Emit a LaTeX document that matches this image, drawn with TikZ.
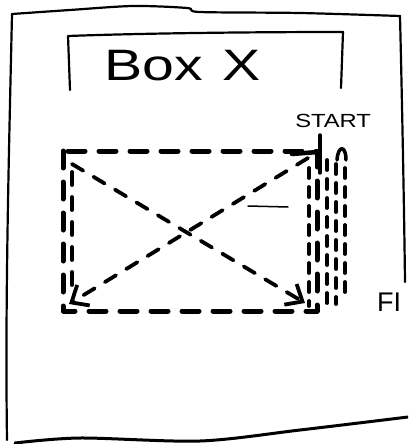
\documentclass[tikz,border=0pt]{standalone}
\usepackage{fontspec}
\setmainfont{Liberation Sans}
\usetikzlibrary{arrows.meta}
\begin{document}
\begin{tikzpicture}[x=1pt,y=-1pt,line cap=round,line join=round,
  frame/.style={line width=2.2pt},
  rectdash/.style={line width=5pt,dash pattern=on 17pt off 14pt},
  diagline/.style={line width=3.8pt,dash pattern=on 13pt off 12pt},
  hatchline/.style={line width=3.8pt,dash pattern=on 10pt off 9pt},
  barb/.style={-{Straight Barb[length=14pt,width=24pt]}},
  label/.style={inner sep=0pt,anchor=base west}]
\useasboundingbox (0,0) rectangle (408,444);
\clip (0,0) rectangle (408,444);
% outer frame
\draw[frame] plot[smooth] coordinates {(12,14) (70,10) (133,6) (187,8) (200,12) (300,13) (400,16)};
\draw[frame] (400,16) .. controls (402,100) and (404,200) .. (405,282);
\draw[frame] (12,14) .. controls (9,150) and (5,300) .. (7,440);
\draw[line width=3pt] plot[smooth] coordinates {(15,443) (80,438) (200,441) (300,430) (408,417)};
% Box X bracket
\draw[frame] (70,90) -- (68,36) .. controls (150,33) and (260,32) .. (343,32) -- (341,88);
\node[label,font=\fontsize{44}{44}\selectfont,xscale=1.3] (title) at (104,80) {Box\hspace{15pt}X};
% dashed rectangle
\coordinate (tl) at (72,164);
\coordinate (tr) at (308,158);
\coordinate (bl) at (69,304);
\coordinate (br) at (305,303);
\draw[rectdash] (63,151) rectangle (317,311);
\draw[diagline,barb] (tl) -- (br);
\draw[diagline,barb] (tr) -- (bl);
\draw[diagline] (72,172) -- (72,296);
% hatching on the right
\draw[hatchline] (309,168) -- (309,306);
\draw[hatchline] (327,160) -- (327,308);
\draw[hatchline] (336,164) -- (336,304);
\draw[line width=3.5pt] (337,160) .. controls (338,145) and (346,145) .. (346,160);
\draw[hatchline] (345,168) -- (345,300);
% START tick
\draw[line width=4.5pt] (292,154) -- (318,152);
\draw[line width=3.5pt] (320,135) -- (320,173);
\node[label,font=\fontsize{19}{19}\selectfont,xscale=1.25] (start) at (295,127) {START};
% short mark
\draw[line width=1.5pt] (248,206) -- (288,207);
% FI (cut off)
\node[label,font=\fontsize{27}{27}\selectfont] (fin) at (377,311) {FI};
\end{tikzpicture}
\end{document}
